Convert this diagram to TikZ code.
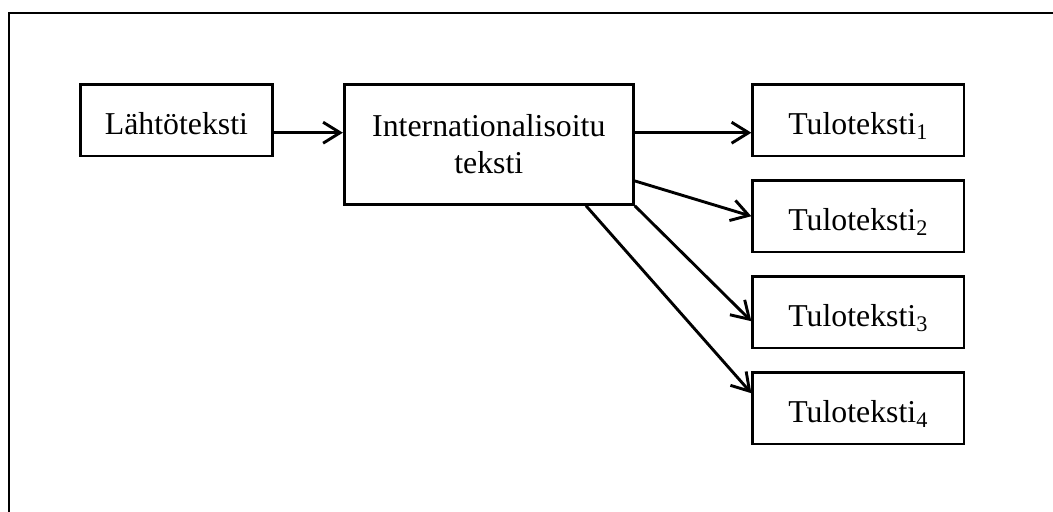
\documentclass[tikz,border=0pt]{standalone}
\usepackage{fontspec}
\setmainfont{Liberation Serif}
\usetikzlibrary{arrows.meta}
\begin{document}
\begin{tikzpicture}[x=.5pt,y=-.5pt,line width=1.45pt,
  box/.style={draw,inner sep=0pt,font=\fontsize{15.9}{18.4}\selectfont},
  tbox/.style={box,text height=14pt,text depth=0pt,minimum width=105.6pt,minimum height=35.8pt},
  arr/.style={-{Straight Barb[length=8.5pt,width=10.5pt]}}]
\clip(0,0)rectangle(1053,511);
\draw(9,13)rectangle(1090,560);
\node[tbox,minimum width=96.3pt](lahto)at(176.4,120.2){Lähtöteksti};
\node[box,align=center,minimum width=144.5pt,minimum height=60pt](intl)at(488.8,144.3){Internationalisoitu\\teksti};
\foreach\i in{1,...,4}{\node[tbox](t\i)at(858.4,{120.2+96*(\i-1)}){Tuloteksti\textsubscript{\i}};}
\coordinate(row)at(0,132.7);
\draw[arr](lahto.east|-row)--(intl.west|-row);
\draw[arr](intl.east|-row)--(t1.west|-row);
\draw[arr]([yshift=-18.3pt]intl.east)--(t2.west);
\draw[arr](intl.south east)--([yshift=-4.5pt]t3.west);
\draw[arr]([xshift=48.6pt]intl.south)--([yshift=7.5pt]t4.west);
\end{tikzpicture}
\end{document}
